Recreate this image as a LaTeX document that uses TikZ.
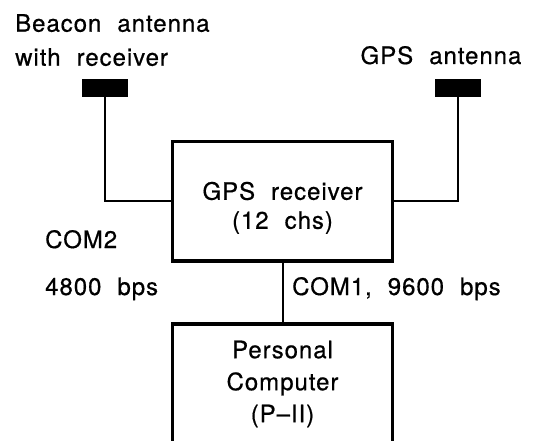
\documentclass[tikz,border=0pt]{standalone}
\usepackage{fontspec}
\setmainfont{TeX Gyre Heros}[LetterSpace=4,WordSpace=2.1,FakeBold=0.6]
\begin{document}
\begin{tikzpicture}[x=1pt,y=-1pt,
  every node/.style={font=\fontsize{24}{32}\selectfont},
  unit/.style={draw, line width=3.5pt, minimum width=220pt, inner sep=0pt, align=center},
  antenna/.style={fill=black, minimum width=46pt, minimum height=18pt, inner sep=0pt},
  wire/.style={line width=2pt},
  lbl/.style={inner sep=0pt, align=left}]
\useasboundingbox (0,0) rectangle (533,441);
\clip (0,0) rectangle (533,441);
\node[antenna] (bant) at (105,88) {};
\node[antenna] (gant) at (458,88) {};
\node[unit, minimum height=119.5pt] (rcv) at (282.5,201.3) {\rule{0pt}{31pt}GPS receiver\\[-3pt](12 chs)};
\node[unit, minimum height=120pt] (pc) at (282.5,384) {Personal\\Computer\\(P--II)};
\node[lbl, anchor=north west] (blbl) at (15,14) {Beacon antenna\\[2pt]with receiver};
\node[lbl, anchor=base] (glbl) at (441,64) {GPS antenna};
\node[lbl, anchor=base west] (com2) at (45,248) {COM2};
\node[lbl, anchor=base west] (bps2) at (45,295) {4800 bps};
\node[lbl, anchor=base west] (com1) at (292,295) {COM1, 9600 bps};
\draw[wire] (bant.south) |- (rcv.west);
\draw[wire] (gant.south) |- (rcv.east);
\draw[wire] (rcv.south) -- (pc.north);
\end{tikzpicture}
\end{document}
